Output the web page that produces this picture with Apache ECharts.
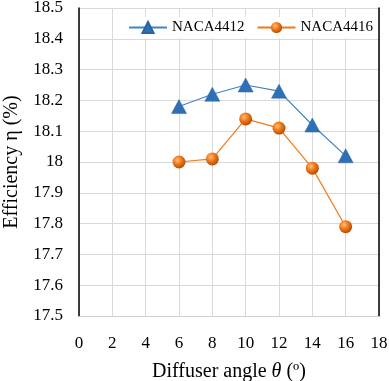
<!DOCTYPE html>
<html><head><meta charset="utf-8">
<script src="https://cdn.jsdelivr.net/npm/echarts@6/dist/echarts.min.js"></script>
<style>html,body{margin:0;padding:0;background:#fff}#c{width:389px;height:381px}</style>
</head><body><div id="c"></div>
<script>
const angles = [6, 8, 10, 12, 14, 16];
const naca4412 = [18.18, 18.22, 18.25, 18.23, 18.12, 18.02];
const naca4416 = [18.00, 18.01, 18.14, 18.11, 17.98, 17.79];
const seriesNames = ['NACA4412', 'NACA4416'];
const xTitle = 'Diffuser angle {i|θ} (º)';
const yTitle = 'Efficiency η (%)';

const font = 'Liberation Serif';
const sphere = {type:'radial', x:0.38, y:0.35, r:0.7, colorStops:[
  {offset:0, color:'#ffc080'},{offset:0.45, color:'#f07a1a'},{offset:1, color:'#b04800'}]};
const chart = echarts.init(document.getElementById('c'));
chart.setOption({
  animation:false,
  textStyle:{fontFamily:font},
  grid:{left:79, right:10, top:8, bottom:65, containLabel:false, outerBoundsMode:'none'},
  legend:{
    data:[{name:seriesNames[0]},{name:seriesNames[1]}],
    top:17, right:12, itemWidth:38, itemHeight:14, itemGap:12,
    backgroundColor:'#fff', padding:[3,4],
    textStyle:{fontFamily:font, fontSize:15, color:'#000'}
  },
  xAxis:{
    type:'value', min:0, max:18, interval:2,
    name:xTitle, nameLocation:'middle', nameGap:46,
    nameTextStyle:{fontFamily:font, fontSize:20, color:'#000', rich:{i:{fontFamily:font, fontStyle:'italic', fontSize:20, color:'#000'}}},
    axisLine:{show:true, lineStyle:{color:'#d0d0d0', width:1}},
    axisTick:{show:false},
    axisLabel:{fontFamily:font, fontSize:17, color:'#000', margin:19},
    splitLine:{show:true, lineStyle:{color:'#d9d9d9', width:1}}
  },
  yAxis:[{
    type:'value', min:17.5, max:18.5, interval:0.1,
    name:yTitle, nameLocation:'middle', nameGap:57,
    nameTextStyle:{fontFamily:font, fontSize:20, color:'#000'},
    axisLine:{show:true, lineStyle:{color:'#000', width:1.5}},
    axisTick:{show:false},
    axisLabel:{fontFamily:font, fontSize:17, color:'#000', margin:16},
    splitLine:{show:true, lineStyle:{color:'#d9d9d9', width:1}}
  },{
    type:'value', min:17.5, max:18.5, interval:0.1, position:'right',
    axisLine:{show:true, lineStyle:{color:'#000', width:1.5}},
    axisTick:{show:false}, axisLabel:{show:false}, splitLine:{show:false}
  }],
  series:[{
    name:seriesNames[0], type:'line',
    data:angles.map((a,i)=>[a, naca4412[i]]),
    symbol:'triangle', symbolSize:[15,14],
    lineStyle:{color:'#3d85c6', width:1.2},
    itemStyle:{color:'#2f6fb5', borderColor:'#2a64a5', borderWidth:0.5}
  },{
    name:seriesNames[1], type:'line',
    data:angles.map((a,i)=>[a, naca4416[i]]),
    symbol:'circle', symbolSize:13,
    lineStyle:{color:'#f07a1a', width:1.2},
    itemStyle:{color:sphere}
  }]
});
</script></body></html>
